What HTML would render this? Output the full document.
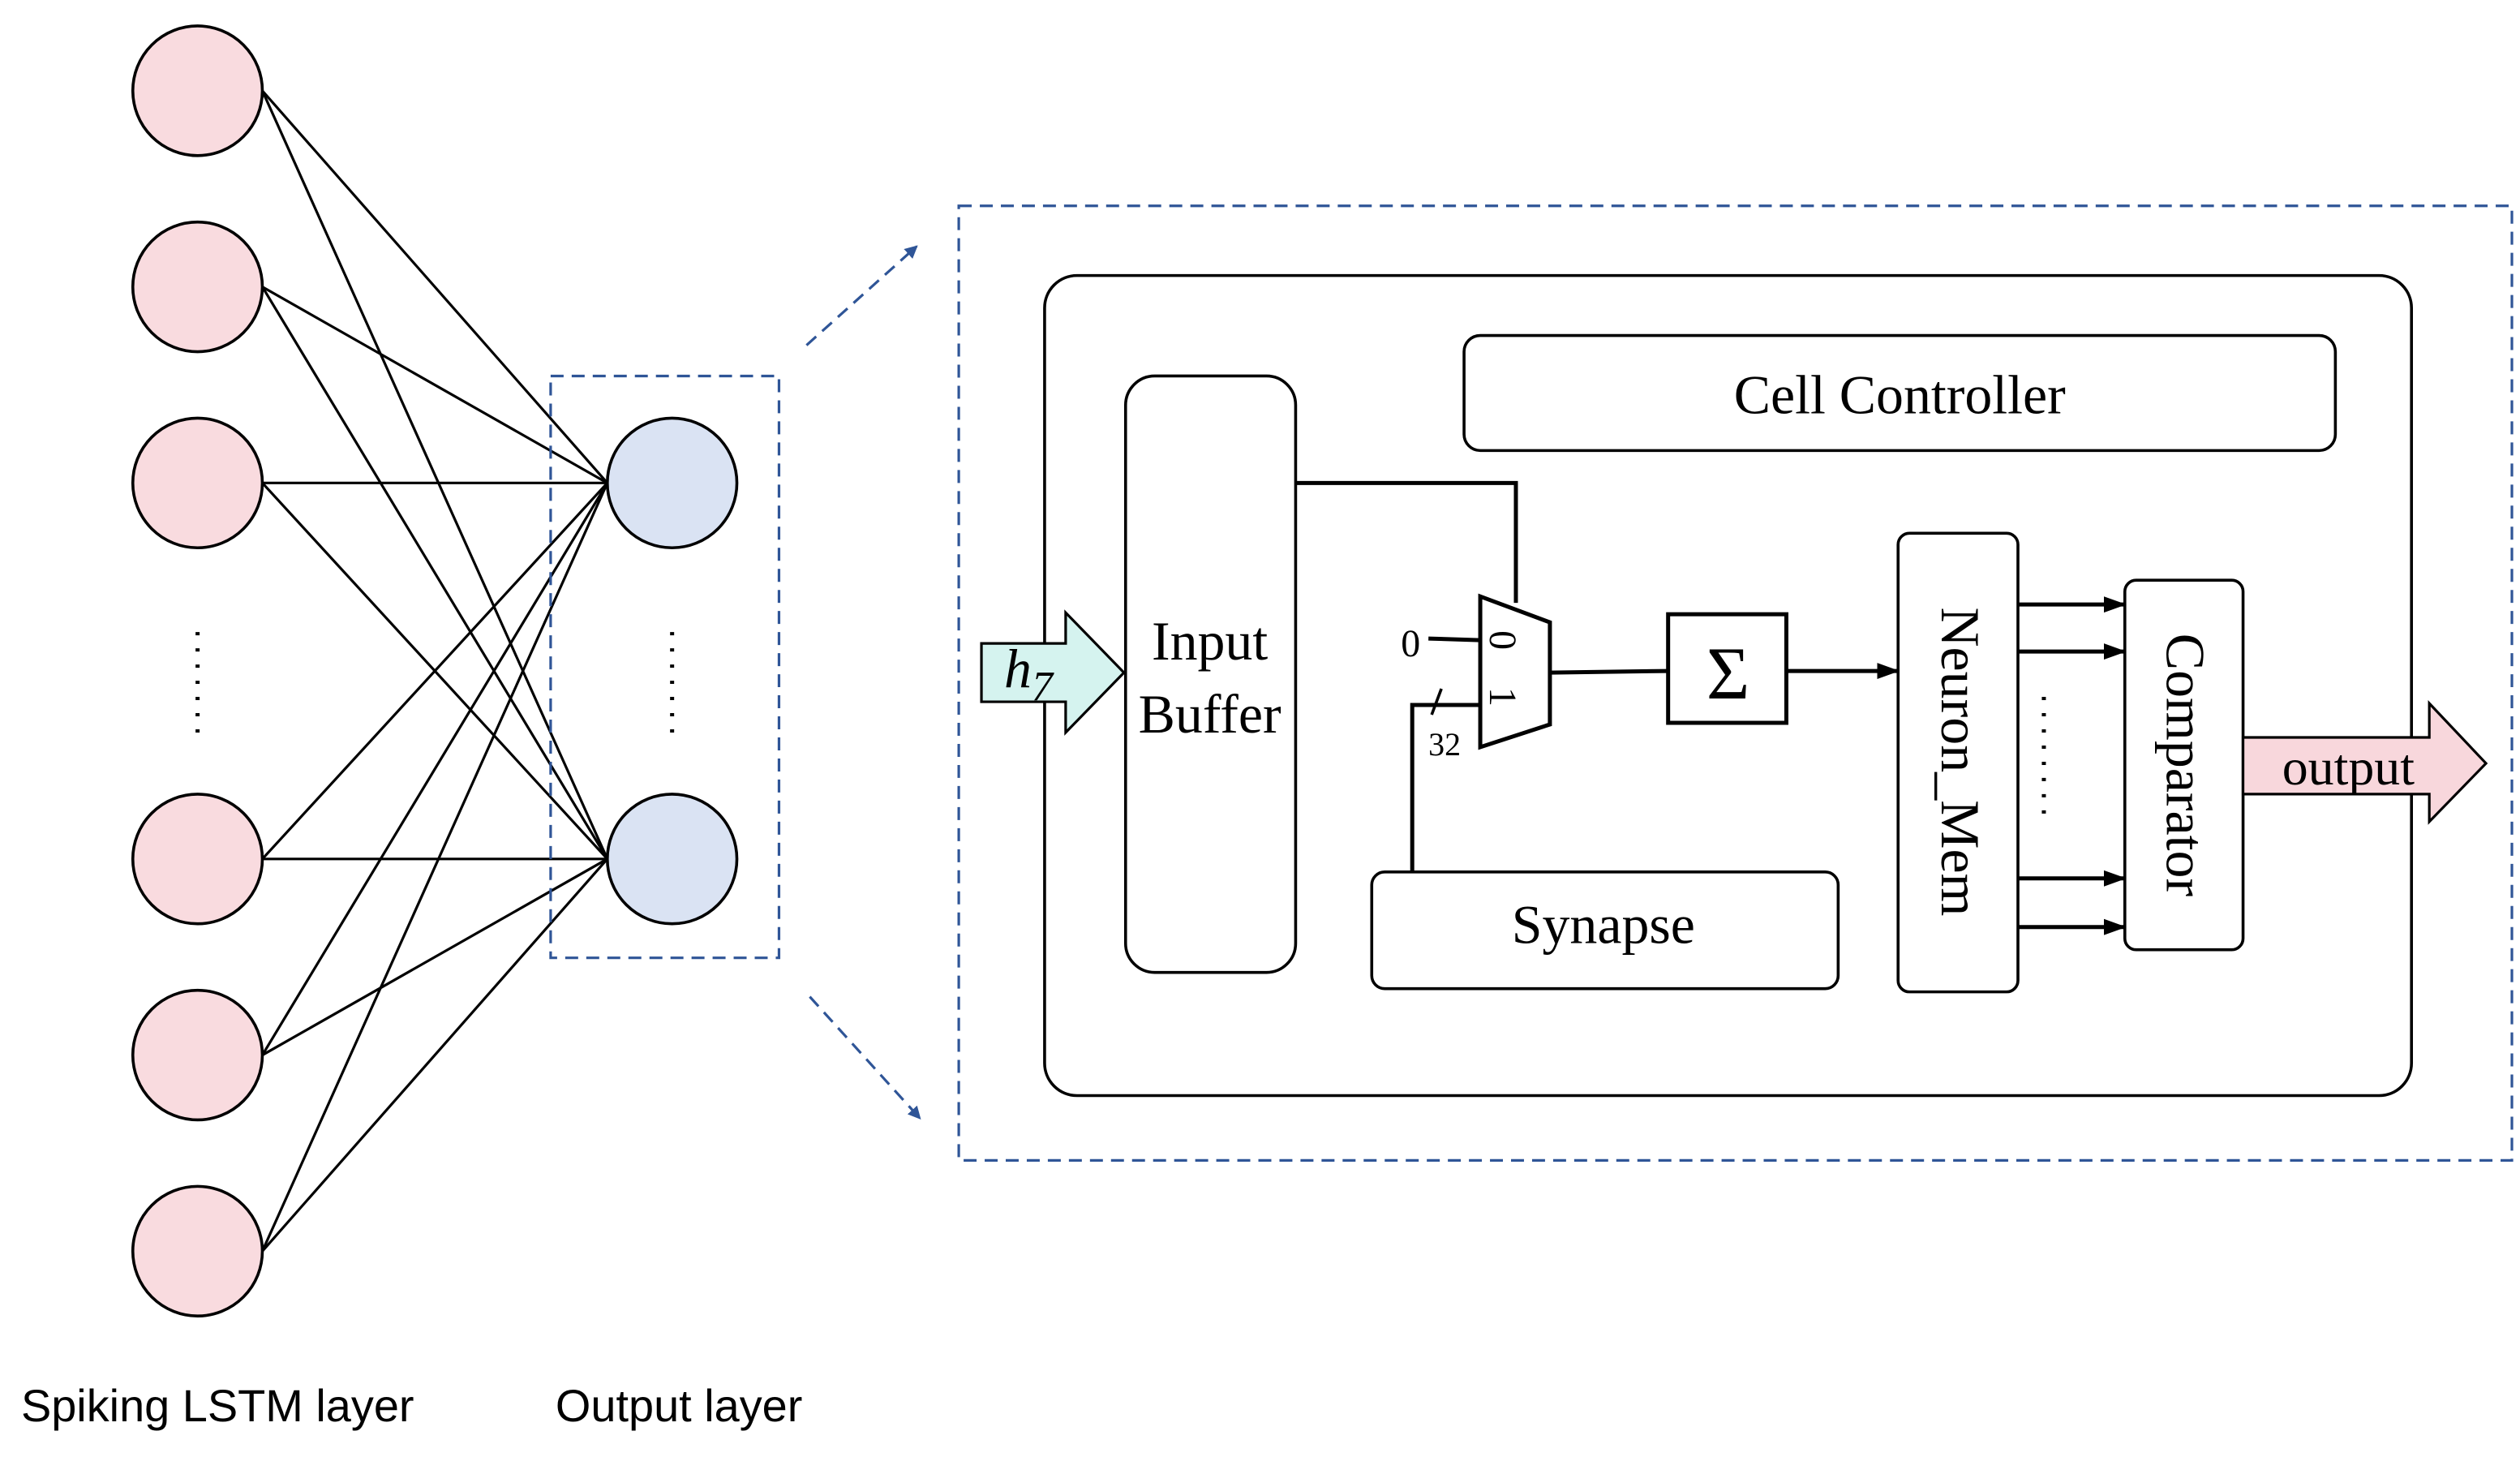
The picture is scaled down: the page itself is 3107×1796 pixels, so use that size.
<!DOCTYPE html>
<html><head><style>html,body{margin:0;padding:0;background:#fff}svg{display:block}</style></head>
<body>
<svg width="3107" height="1796" viewBox="0 0 1556 899" preserveAspectRatio="none" xmlns="http://www.w3.org/2000/svg">
<defs>
<marker id="ab" markerWidth="8" markerHeight="8" refX="7" refY="4" orient="auto" markerUnits="userSpaceOnUse"><path d="M0,0 L8,4 L0,8 z" fill="#2F5597"/></marker>
<marker id="ak" markerWidth="14" markerHeight="10" refX="13" refY="5" orient="auto" markerUnits="userSpaceOnUse"><path d="M0,0 L14,5 L0,10 z" fill="#000"/></marker>
</defs>
<g stroke="#000" stroke-width="1.6">
<line x1="162" y1="56" x2="375" y2="298"/><line x1="162" y1="56" x2="375" y2="530"/>
<line x1="162" y1="177" x2="375" y2="298"/><line x1="162" y1="177" x2="375" y2="530"/>
<line x1="162" y1="298" x2="375" y2="298"/><line x1="162" y1="298" x2="375" y2="530"/>
<line x1="162" y1="530" x2="375" y2="298"/><line x1="162" y1="530" x2="375" y2="530"/>
<line x1="162" y1="651" x2="375" y2="298"/><line x1="162" y1="651" x2="375" y2="530"/>
<line x1="162" y1="772" x2="375" y2="298"/><line x1="162" y1="772" x2="375" y2="530"/>
</g>
<g stroke="#000" stroke-width="1.8" fill="#F9DBDF">
<circle cx="122" cy="56" r="40"/><circle cx="122" cy="177" r="40"/><circle cx="122" cy="298" r="40"/>
<circle cx="122" cy="530" r="40"/><circle cx="122" cy="651" r="40"/><circle cx="122" cy="772" r="40"/>
</g>
<g stroke="#000" stroke-width="1.8" fill="#DAE3F3">
<circle cx="415" cy="298" r="40"/><circle cx="415" cy="530" r="40"/>
</g>
<g stroke="#000" stroke-width="2.5" stroke-dasharray="2,8">
<line x1="122" y1="390" x2="122" y2="454"/><line x1="415" y1="390" x2="415" y2="454"/>
</g>
<g fill="none" stroke="#2F5597" stroke-width="1.6" stroke-dasharray="8,5">
<rect x="340" y="232" width="141" height="359"/>
<rect x="592" y="127" width="959" height="589"/>
<line x1="498" y1="213" x2="566" y2="152" marker-end="url(#ab)"/>
<line x1="500" y1="615" x2="568" y2="690" marker-end="url(#ab)"/>
</g>
<g fill="none" stroke="#000" stroke-width="1.8">
<rect x="645" y="170" width="844" height="506" rx="20"/>
<rect x="904" y="207" width="538" height="71" rx="10"/>
<rect x="695" y="232" width="105" height="368" rx="18"/>
<rect x="847" y="538" width="288" height="72" rx="8"/>
<rect x="1172" y="329" width="74" height="283" rx="7"/>
<rect x="1312" y="358" width="73" height="228" rx="7"/>
<rect x="1030" y="379" width="73" height="67" stroke-width="2.5"/>
<polyline points="800,298 936,298 936,372" stroke-width="2.5"/>
<polygon points="914,368 957,384 957,447 914,461" stroke-width="2.5"/>
<line x1="882" y1="394" x2="914" y2="395" stroke-width="2.5"/>
<polyline points="914,435 872,435 872,538" stroke-width="2.5"/>
<line x1="884" y1="441" x2="890" y2="425" stroke-width="1.8"/>
<line x1="957" y1="415" x2="1030" y2="414" stroke-width="2.5"/>
<line x1="1103" y1="414" x2="1172" y2="414" stroke-width="2.5" marker-end="url(#ak)"/>
<line x1="1246" y1="373" x2="1312" y2="373" stroke-width="2.5" marker-end="url(#ak)"/>
<line x1="1246" y1="402" x2="1312" y2="402" stroke-width="2.5" marker-end="url(#ak)"/>
<line x1="1246" y1="542" x2="1312" y2="542" stroke-width="2.5" marker-end="url(#ak)"/>
<line x1="1246" y1="572" x2="1312" y2="572" stroke-width="2.5" marker-end="url(#ak)"/>
<line x1="1262" y1="430" x2="1262" y2="506" stroke-width="2.5" stroke-dasharray="2,8"/>
</g>
<polygon points="606,397 658,397 658,378 694,415 658,452 658,433 606,433" fill="#D5F3EF" stroke="#000" stroke-width="1.6"/>
<polygon points="1385,455 1500,455 1500,434 1535,471 1500,507 1500,490 1385,490" fill="#F8D7DC" stroke="#000" stroke-width="1.6"/>
<g font-family="Liberation Serif, serif" fill="#000" text-anchor="middle">
<text x="1173" y="255" font-size="34">Cell Controller</text>
<text x="747" y="407" font-size="34">Input</text>
<text x="747" y="452" font-size="34">Buffer</text>
<text x="990" y="582" font-size="34">Synapse</text>
<text x="1067" y="431" font-size="46">Σ</text>
<text x="635" y="424" font-size="34" font-style="italic">h<tspan font-size="26" dy="8" font-style="italic">7</tspan></text>
<text x="1450" y="484" font-size="32">output</text>
<text x="871" y="405" font-size="24">0</text>
<text x="892" y="466" font-size="20">32</text>
<text transform="translate(920,395) rotate(90)" font-size="24">0</text>
<text transform="translate(920,430) rotate(90)" font-size="24">1</text>
<text transform="translate(1199,470) rotate(90)" font-size="34">Neuron_Mem</text>
<text transform="translate(1338,472) rotate(90)" font-size="34">Comparator</text>
</g>
<g font-family="Liberation Sans, sans-serif" font-size="28" fill="#000">
<text x="13" y="877">Spiking LSTM layer</text>
<text x="343" y="877">Output layer</text>
</g>
</svg>
</body></html>
